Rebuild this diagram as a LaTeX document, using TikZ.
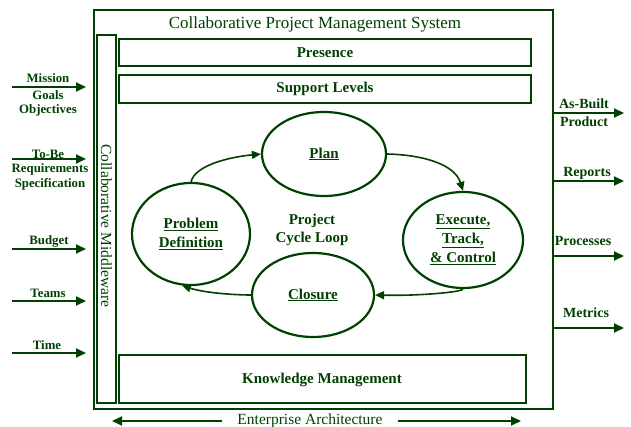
\documentclass[tikz,border=0pt]{standalone}
\usepackage{fontspec}
\setmainfont{Liberation Serif}
\usetikzlibrary{arrows.meta,shapes.geometric}
\definecolor{dg}{RGB}{0,64,0}
\begin{document}
\begin{tikzpicture}[x=1pt,y=-1pt,
  every node/.style={text=dg, font=\fontsize{15}{18}\selectfont\bfseries, align=center, inner sep=0pt},
  panel/.style={draw=dg, line width=2pt},
  oval/.style={draw=dg, line width=2.2pt, ellipse},
  flow/.style={draw=dg, line width=1.6pt, -{Triangle[length=9pt,width=8pt]}},
  io/.style={draw=dg, line width=1.8pt, -{Triangle[length=10pt,width=9pt]}},
  lbl/.style={font=\fontsize{12.8}{15.5}\selectfont\bfseries},
  rlbl/.style={font=\fontsize{14}{17}\selectfont\bfseries}
]
\useasboundingbox (0,0) rectangle (631,427);
% outer frame
\draw[draw=dg, line width=1.4pt] (94,10) rectangle (553,409);
\node[font=\fontsize{17}{20}\selectfont] (title) at (315,24) {Collaborative Project Management System};
% middleware
\draw[draw=dg, line width=1.4pt] (97,35) rectangle (116,403);
\node[rotate=-90, font=\fontsize{15.5}{18}\selectfont] (mw) at (106.5,226) {Collaborative Middleware};
% bars
\draw[panel] (119,39) rectangle (531,66);
\node (pres) at (325,53) {Presence};
\draw[panel] (119,75) rectangle (531,103);
\node (sup) at (325,89) {Support Levels};
\draw[panel] (119,355) rectangle (526,403);
\node (km) at (322,380) {Knowledge Management};
% ellipses
\node[oval, minimum width=124pt, minimum height=84pt] (plan) at (324,154) {\underline{Plan}};
\node[oval, minimum width=120pt, minimum height=96pt, font=\fontsize{15}{19}\selectfont\bfseries] (exec) at (463,240) {\underline{Execute,}\\\underline{Track,}\\\underline{\& Control}};
\node[oval, minimum width=118pt, minimum height=102pt, font=\fontsize{15}{19}\selectfont\bfseries] (prob) at (191,234) {\underline{Problem}\\\underline{Definition}};
\node[oval, minimum width=122pt, minimum height=84pt] (clos) at (313,295) {\underline{Closure}};
\node (loop) at (312,230) {Project\\Cycle Loop};
% cycle arrows
\draw[flow] (prob.90) .. controls (195,165) and (230,157) .. (plan.west);
\draw[flow] (plan.east) .. controls (425,155) and (455,165) .. (exec.north);
\draw[flow] (exec.-90) .. controls (462,292) and (420,296) .. (clos.east);
\draw[flow] (clos.west) .. controls (235,295) and (205,293) .. (prob.-100);
% inputs
\coordinate (i1a) at (12,87); \coordinate (i1b) at (86,87);
\coordinate (i2a) at (12,159); \coordinate (i2b) at (86,159);
\coordinate (i3a) at (12,249); \coordinate (i3b) at (86,249);
\coordinate (i4a) at (12,301); \coordinate (i4b) at (86,301);
\coordinate (i5a) at (12,353); \coordinate (i5b) at (86,353);
\draw[io] (i1a) -- (i1b);
\draw[io] (i2a) -- (i2b);
\draw[io] (i3a) -- (i3b);
\draw[io] (i4a) -- (i4b);
\draw[io] (i5a) -- (i5b);
\node[lbl] (m1) at (48,78) {Mission};
\node[lbl] (m2) at (48,103.5) {Goals\\[-1pt]Objectives};
\node[lbl] (t1) at (48,154) {To-Be};
\node[lbl] (t2) at (50,177) {Requirements\\[-1pt]Specification};
\node[lbl] (bud) at (49,241) {Budget};
\node[lbl] (team) at (48,293) {Teams};
\node[lbl] (time) at (47,345) {Time};
% outputs
\coordinate (o1a) at (553,113); \coordinate (o1b) at (624,113);
\coordinate (o2a) at (553,181); \coordinate (o2b) at (624,181);
\coordinate (o3a) at (553,256); \coordinate (o3b) at (624,256);
\coordinate (o4a) at (553,328); \coordinate (o4b) at (624,328);
\draw[io] (o1a) -- (o1b);
\draw[io] (o2a) -- (o2b);
\draw[io] (o3a) -- (o3b);
\draw[io] (o4a) -- (o4b);
\node[rlbl] (ab) at (584,104) {As-Built};
\node[rlbl] (pr) at (584,122) {Product};
\node[rlbl] (rep) at (587,173) {Reports};
\node[rlbl] (proc) at (583,241) {Processes};
\node[rlbl] (met) at (586,313) {Metrics};
% enterprise architecture
\node[font=\fontsize{15.5}{18}\selectfont] (ea) at (310,421) {Enterprise Architecture};
\coordinate (eal) at (112,421); \coordinate (ear) at (521,421);
\draw[io] (ea.west) ++(-15,0) -- (eal);
\draw[io] (ea.east) ++(15,0) -- (ear);
\end{tikzpicture}
\end{document}
